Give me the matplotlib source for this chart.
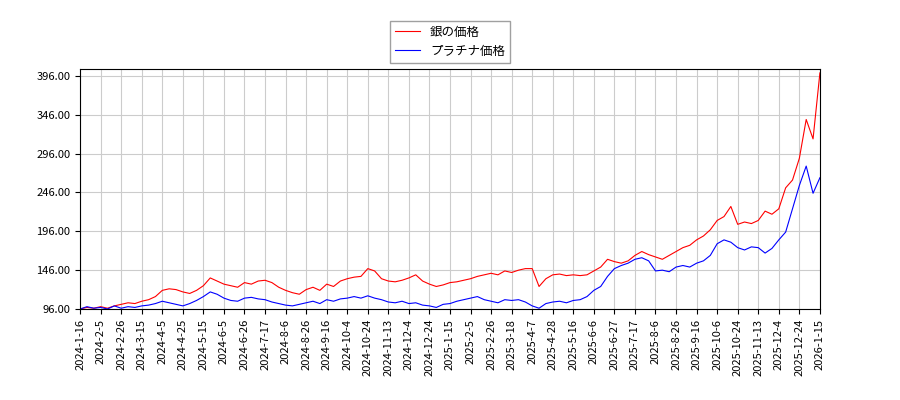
import matplotlib
matplotlib.use("Agg")
import matplotlib.pyplot as plt
import numpy as np

plt.rcParams['font.family'] = ['Noto Sans CJK JP', 'DejaVu Sans']

tick_labels = ["2024-1-16","2024-2-5","2024-2-26","2024-3-15","2024-4-5","2024-4-25","2024-5-15",
"2024-6-5","2024-6-26","2024-7-17","2024-8-6","2024-8-26","2024-9-16","2024-10-4","2024-10-24",
"2024-11-13","2024-12-4","2024-12-24","2025-1-15","2025-2-5","2025-2-26","2025-3-18","2025-4-7",
"2025-4-28","2025-5-16","2025-6-6","2025-6-27","2025-7-17","2025-8-6","2025-8-26","2025-9-16",
"2025-10-6","2025-10-24","2025-11-13","2025-12-4","2025-12-24","2026-1-15"]

silver = [96,98,97, 99,97,100, 102,104,103, 106,108,112, 120,122,121, 118,116,120,
          126,136,132, 128,126,124, 130,128,132, 133,130,124, 120,117,115, 121,124,120,
          128,125,132, 135,137,138, 148,145,135, 132,131,133, 136,140,132, 128,125,127,
          130,131,133, 135,138,140, 142,140,145, 143,146,148, 148,125,135, 140,141,139,
          140,139,140, 145,150,160, 157,155,158, 165,170,166, 163,160,165, 170,175,178,
          185,190,198, 210,215,228, 205,208,206, 210,222,218, 225,252,262, 290,340,315,
          400]
platinum = [96,99,97, 98,96,100, 97,99,98, 100,101,103, 106,104,102, 100,103,107,
            112,118,115, 110,107,106, 110,111,109, 108,105,103, 101,100,102, 104,106,103,
            108,106,109, 110,112,110, 113,110,108, 105,104,106, 103,104,101, 100,98,102,
            103,106,108, 110,112,108, 106,104,108, 107,108,105, 100,97,103, 105,106,104,
            107,108,112, 120,125,138, 148,152,155, 160,162,158, 145,146,144, 150,152,150,
            155,158,165, 180,185,182, 175,172,176, 175,168,174, 185,195,225, 255,280,245,
            265]

pts_per_tick = 3
x = np.arange(len(silver)) / pts_per_tick

fig = plt.figure(figsize=(9, 4), dpi=100)
ax = fig.add_axes([0.089, 0.2275, 0.822, 0.6])
ax.plot(x, silver, color='red', lw=0.8, label='銀の価格')
ax.plot(x, platinum, color='blue', lw=0.8, label='プラチナ価格')
ax.set_xlim(0, len(tick_labels) - 1)
ax.set_ylim(96, 405)
ax.set_xticks(np.arange(len(tick_labels)))
ax.set_xticklabels(tick_labels, rotation=90, fontsize=8)
ax.set_yticks([96, 146, 196, 246, 296, 346, 396])
ax.set_yticklabels([f"{v:.2f}" for v in [96, 146, 196, 246, 296, 346, 396]], fontsize=8)
ax.grid(True, color='#cccccc', lw=0.8)
ax.legend(loc='lower center', bbox_to_anchor=(0.5, 1.0), fontsize=9, fancybox=False, edgecolor='#888888')
fig.savefig('out.png')
